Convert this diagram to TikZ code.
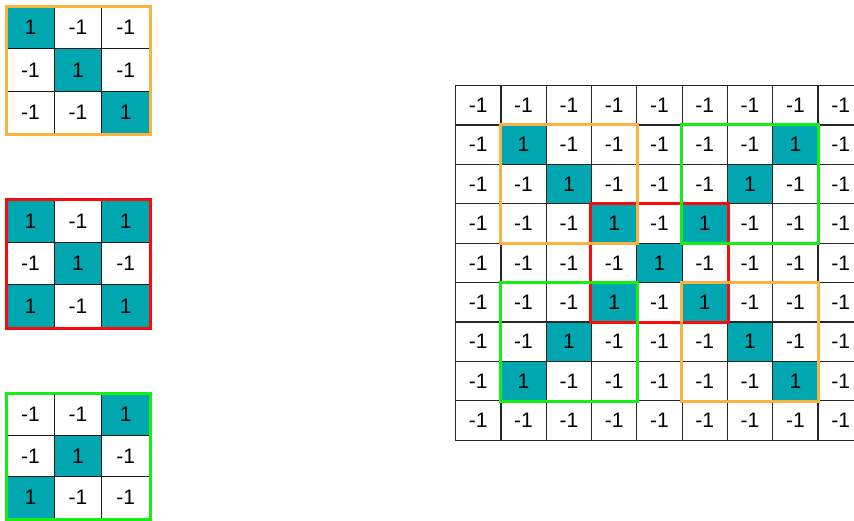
\documentclass[tikz,border=0pt]{standalone}
\usepackage{fontspec}
\setmainfont{Liberation Sans}
\definecolor{tealfill}{RGB}{0,166,176}
\definecolor{boxorange}{RGB}{250,178,64}
\definecolor{boxgreen}{RGB}{20,240,20}
\definecolor{boxred}{RGB}{250,10,10}
\begin{document}
\begin{tikzpicture}[x=1pt,y=-1pt,
  bigcell/.style={draw=black!85, line width=1.2pt, minimum width=45.3pt, minimum height=39.4pt, inner sep=0pt, anchor=north west, font=\fontsize{21}{21}\selectfont},
  smallcell/.style={draw=black!90, line width=1.1pt, minimum width=47.67pt, inner sep=0pt, anchor=north west, font=\fontsize{21}{21}\selectfont},
  onecell/.style={fill=tealfill},
  frame/.style={line width=3pt}]
\useasboundingbox (0,0) rectangle (854,520);
% big grid
\foreach \r in {0,...,8}{
  \foreach \c in {0,...,8}{
    \pgfmathtruncatemacro\one{and(and(\r>0,\r<8),or(\c==\r,\c==8-\r))}
    \ifnum\one=1
      \node[bigcell,onecell] (b-\r-\c) at ({455+45.3*\c},{85+39.4*\r}) {1};
    \else
      \node[bigcell] (b-\r-\c) at ({455+45.3*\c},{85+39.4*\r}) {-1};
    \fi
  }
}
\draw[frame,boxred] (b-3-3.north west) rectangle (b-5-5.south east);
\draw[frame,boxorange] (b-1-1.north west) rectangle (b-3-3.south east);
\draw[frame,boxgreen] (b-1-5.north west) rectangle (b-3-7.south east);
\draw[frame,boxgreen] (b-5-1.north west) rectangle (b-7-3.south east);
\draw[frame,boxorange] (b-5-5.north west) rectangle (b-7-7.south east);
% small grids
\foreach \r in {0,1,2}{
  \foreach \c in {0,1,2}{
    % orange: diagonal
    \pgfmathtruncatemacro\one{\c==\r}
    \ifnum\one=1
      \node[smallcell,onecell,minimum height=42.33pt] (o-\r-\c) at ({6+47.67*\c},{6+42.33*\r}) {1};
    \else
      \node[smallcell,minimum height=42.33pt] (o-\r-\c) at ({6+47.67*\c},{6+42.33*\r}) {-1};
    \fi
    % red: X
    \pgfmathtruncatemacro\one{or(\c==\r,\c==2-\r)}
    \ifnum\one=1
      \node[smallcell,onecell,minimum height=42.67pt] (x-\r-\c) at ({6+47.67*\c},{199+42.67*\r}) {1};
    \else
      \node[smallcell,minimum height=42.67pt] (x-\r-\c) at ({6+47.67*\c},{199+42.67*\r}) {-1};
    \fi
    % green: anti-diagonal
    \pgfmathtruncatemacro\one{\c==2-\r}
    \ifnum\one=1
      \node[smallcell,onecell,minimum height=41.67pt] (g-\r-\c) at ({6+47.67*\c},{393+41.67*\r}) {1};
    \else
      \node[smallcell,minimum height=41.67pt] (g-\r-\c) at ({6+47.67*\c},{393+41.67*\r}) {-1};
    \fi
  }
}
\draw[frame,boxorange] (o-0-0.north west) rectangle (o-2-2.south east);
\draw[frame,boxred] (x-0-0.north west) rectangle (x-2-2.south east);
\draw[frame,boxgreen] (g-0-0.north west) rectangle (g-2-2.south east);
\end{tikzpicture}
\end{document}
